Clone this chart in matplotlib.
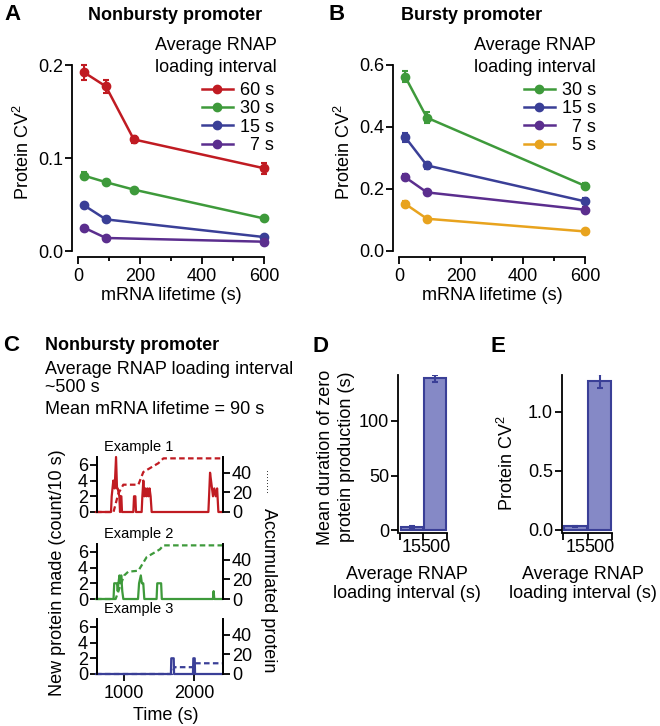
import matplotlib
matplotlib.use("Agg")
import matplotlib.pyplot as plt

# colours of the four RNAP loading intervals
RED = '#C01B22'
GREEN = '#3E9A3B'
BLUE = '#3A3F97'
PURPLE = '#5B2E8E'
ORANGE = '#E8A31E'
BAR_FILL = '#8589C6'

# Panel A - nonbursty promoter, protein CV^2 vs mRNA lifetime
a_x_long = [20, 90, 180, 600]
a_x_short = [20, 90, 600]
a_cv_60 = [0.192, 0.177, 0.120, 0.089]
a_err_60 = [0.008, 0.007, 0.004, 0.006]
a_cv_30 = [0.081, 0.074, 0.066, 0.035]
a_err_30 = [0.004, 0.002, 0.002, 0.002]
a_cv_15 = [0.049, 0.034, 0.015]
a_err_15 = [0.002, 0.002, 0.002]
a_cv_7 = [0.025, 0.014, 0.010]
a_err_7 = [0.002, 0.001, 0.001]

# Panel B - bursty promoter
b_x = [20, 90, 600]
b_cv_30 = [0.562, 0.430, 0.210]
b_err_30 = [0.018, 0.018, 0.010]
b_cv_15 = [0.367, 0.276, 0.160]
b_err_15 = [0.014, 0.012, 0.010]
b_cv_7 = [0.238, 0.189, 0.133]
b_err_7 = [0.010, 0.008, 0.008]
b_cv_5 = [0.152, 0.104, 0.063]
b_err_5 = [0.008, 0.006, 0.006]

# Panel C - example traces (time s, new proteins per 10 s) and accumulated protein
ex1_trace = [(600, 0), (814, 0), (824, 2), (847, 4), (866, 3), (886, 7), (900, 3),
             (910, 3), (933, 2), (943, 0), (952, 2), (962, 2), (971, 0), (1133, 0),
             (1143, 2), (1162, 2), (1171, 0), (1252, 0), (1262, 2), (1276, 4),
             (1290, 2), (1305, 3), (1320, 2), (1335, 3), (1350, 2), (1365, 3),
             (1380, 2), (1395, 0), (2205, 0), (2215, 2), (2229, 5), (2243, 4),
             (2257, 3), (2271, 2), (2290, 3), (2310, 2), (2330, 3), (2348, 0), (2400, 0)]
ex1_accum = [(600, 0), (850, 0), (919, 19), (990, 28), (1205, 28), (1276, 41),
             (1490, 50), (1562, 55), (2400, 55)]
ex2_trace = [(600, 0), (850, 0), (860, 2), (900, 2), (910, 1), (920, 2), (935, 3),
             (950, 2), (960, 3), (975, 1), (990, 0), (1200, 0), (1215, 2), (1240, 3),
             (1255, 2), (1275, 2), (1290, 0), (1465, 0), (1475, 2), (1530, 2),
             (1540, 0), (2270, 0), (2280, 1), (2290, 0), (2400, 0)]
ex2_accum = [(600, 0), (880, 0), (1000, 24), (1060, 28), (1205, 29), (1324, 43),
             (1420, 47), (1514, 51), (1562, 55), (2400, 55)]
ex3_trace = [(600, 0), (1670, 0), (1675, 2), (1710, 2), (1715, 0), (1985, 0),
             (1990, 2), (2010, 2), (2015, 0), (2400, 0)]
ex3_accum = [(600, 0), (1690, 0), (1720, 7), (1990, 7), (2015, 11), (2400, 11)]

# Panels D and E
interval_labels = ['15', '500']
zero_duration = [3, 139]
zero_duration_err = [0.8, 3.5]
protein_cv = [0.03, 1.26]
protein_cv_err = [0.005, 0.06]

plt.rcParams['font.family'] = ['Liberation Sans', 'DejaVu Sans']
plt.rcParams['mathtext.default'] = 'regular'
plt.rcParams['font.size'] = 13
plt.rcParams['axes.linewidth'] = 1.3
for a in ('xtick', 'ytick'):
    plt.rcParams[a + '.major.width'] = 1.3
    plt.rcParams[a + '.minor.width'] = 1.3
    plt.rcParams[a + '.major.size'] = 5
    plt.rcParams[a + '.minor.size'] = 3.2
    plt.rcParams[a + '.labelsize'] = 13
plt.rcParams['xtick.major.pad'] = 3
plt.rcParams['ytick.major.pad'] = 1.5

W, H = 660, 726
fig = plt.figure(figsize=(W / 100, H / 100), dpi=100)


def add_ax(left, top, right, bottom):
    return fig.add_axes([left / W, 1 - bottom / H, (right - left) / W, (bottom - top) / H])


def put(x, y, s, **kw):
    kw.setdefault('va', 'center')
    fig.text(x / W, 1 - y / H, s, **kw)


def cv_panel(ax, series, ymax, yticks, yfmt):
    for x, y, e, c, lab in series:
        ax.errorbar(x, y, yerr=e, fmt='none', ecolor=c, elinewidth=1.5,
                    capsize=2.5, capthick=1.5, clip_on=False)
        ax.plot(x, y, '-o', color=c, lw=1.8, ms=6, label=lab, clip_on=False)
    for s in ('top', 'right'):
        ax.spines[s].set_visible(False)
    ax.spines['left'].set_bounds(0, ymax)
    ax.spines['bottom'].set_bounds(0, 600)
    ax.set_xticks([0, 200, 400, 600])
    ax.set_xticks([100, 300, 500], minor=True)
    ax.set_yticks(yticks)
    ax.set_yticklabels([yfmt.format(v) for v in yticks])
    ax.legend(frameon=False, loc='upper right', handlelength=1.7,
              handletextpad=0.4, labelspacing=0.07, borderpad=0,
              borderaxespad=0, fontsize=13)


# ---- A ----
axA = add_ax(72, 60, 272, 257)
cv_panel(axA, [(a_x_long, a_cv_60, a_err_60, RED, '60 s'),
               (a_x_long, a_cv_30, a_err_30, GREEN, '30 s'),
               (a_x_short, a_cv_15, a_err_15, BLUE, '15 s'),
               (a_x_short, a_cv_7, a_err_7, PURPLE, '  7 s')],
         0.2, [0.0, 0.1, 0.2], '{:.1f}')
axA.set_xlim(-19.35, 625.8)
axA.set_ylim(-0.00645, 0.2054)
axA.get_legend().set_bbox_to_anchor((1.01, 0.888))

# ---- B ----
axB = add_ax(393, 60, 595, 257)
cv_panel(axB, [(b_x, b_cv_30, b_err_30, GREEN, '30 s'),
               (b_x, b_cv_15, b_err_15, BLUE, '15 s'),
               (b_x, b_cv_7, b_err_7, PURPLE, '  7 s'),
               (b_x, b_cv_5, b_err_5, ORANGE, '  5 s')],
         0.6, [0.0, 0.2, 0.4, 0.6], '{:.1f}')
axB.set_xlim(-19.35, 632)
axB.set_ylim(-0.0194, 0.6161)
axB.get_legend().set_bbox_to_anchor((1.005, 0.888))

put(4, 15, 'A', fontsize=16, fontweight='bold')
put(175, 15, 'Nonbursty promoter', fontweight='bold', ha='center')
put(328, 15, 'B', fontsize=16, fontweight='bold')
put(472, 15, 'Bursty promoter', fontweight='bold', ha='center')
for right in (277, 596):
    put(right, 45, 'Average RNAP', ha='right')
    put(right, 67, 'loading interval', ha='right')
put(23, 152, 'Protein CV$^2$', rotation=90, ha='center')
put(344, 152, 'Protein CV$^2$', rotation=90, ha='center')
put(171, 296, 'mRNA lifetime (s)', ha='center')
put(492, 296, 'mRNA lifetime (s)', ha='center')

# ---- C ----
examples = [(ex1_trace, ex1_accum, RED, 457, 'Example 1'),
            (ex2_trace, ex2_accum, GREEN, 544, 'Example 2'),
            (ex3_trace, ex3_accum, BLUE, 619, 'Example 3')]
for i, (trace, accum, c, top, name) in enumerate(examples):
    ax = add_ax(97, top, 223, top + 55)
    tw = ax.twinx()
    t, n = zip(*trace)
    ta, na = zip(*accum)
    ax.plot(t, n, color=c, lw=1.6, clip_on=False)
    tw.plot(ta, na, color=c, lw=1.6, ls=(0, (2.5, 1.5)), clip_on=False)
    for a in (ax, tw):
        a.set_xlim(614, 2414)
        a.spines['top'].set_visible(False)
        a.spines['bottom'].set_visible(False)
    ax.set_ylim(0, 7)
    tw.set_ylim(0, 56.4)
    ax.set_yticks([0, 2, 4, 6])
    tw.set_yticks([0, 20, 40])
    if i < 2:
        ax.tick_params(axis='x', bottom=False, labelbottom=False)
    else:
        ax.set_xticks([1000, 2000])
    put(139, top - 10, name, fontsize=10.5, ha='center')

put(3, 345, 'C', fontsize=16, fontweight='bold')
put(45, 345, 'Nonbursty promoter', fontweight='bold')
put(45, 369, 'Average RNAP loading interval')
put(45, 387, '~500 s')
put(45, 409, 'Mean mRNA lifetime = 90 s')
put(57, 573, 'New protein made (count/10 s)', rotation=90, ha='center')
put(268, 590, 'Accumulated protein', rotation=-90, ha='center')
put(268, 482, '........', rotation=-90, ha='center', fontsize=8)
put(166, 715, 'Time (s)', ha='center')


# ---- D and E ----
def bar_panel(ax, values, errs):
    ax.bar([0.5, 1.5], values, width=0.93, color=BAR_FILL, edgecolor=BLUE, lw=1.5)
    ax.errorbar([0.5, 1.5], values, yerr=errs, fmt='none', ecolor=BLUE,
                elinewidth=1.5, capsize=2.5, capthick=1.5)
    for s in ('top', 'right'):
        ax.spines[s].set_visible(False)
    ax.spines['bottom'].set_bounds(0, 2)
    ax.set_xticks([0, 1, 2])
    ax.set_xticklabels([])
    ax.set_xticks([0.5, 1.5], minor=True)
    ax.set_xticklabels(interval_labels, minor=True)
    ax.tick_params(axis='x', which='minor', length=0, pad=4)


axD = add_ax(398, 375, 448, 533)
bar_panel(axD, zero_duration, zero_duration_err)
axD.set_xlim(-0.0857, 2.056)
axD.set_ylim(-2.75, 142.2)
axD.set_yticks([0, 50, 100])

axE = add_ax(562, 375, 613, 533)
bar_panel(axE, protein_cv, protein_cv_err)
axE.set_xlim(-0.054, 2.054)
axE.set_ylim(-0.0254, 1.31)
axE.set_yticks([0.0, 0.5, 1.0])
axE.set_yticklabels(['0.0', '0.5', '1.0'])

put(312, 347, 'D', fontsize=16, fontweight='bold')
put(336, 457, 'Mean duration of zero\nprotein production (s)', rotation=90,
    ha='center', linespacing=1.25)
put(407, 584, 'Average RNAP\nloading interval (s)', ha='center', linespacing=1.2)
put(490, 347, 'E', fontsize=16, fontweight='bold')
put(507, 463, 'Protein CV$^2$', rotation=90, ha='center')
put(583, 584, 'Average RNAP\nloading interval (s)', ha='center', linespacing=1.2)

fig.savefig('out.png', dpi=100)
